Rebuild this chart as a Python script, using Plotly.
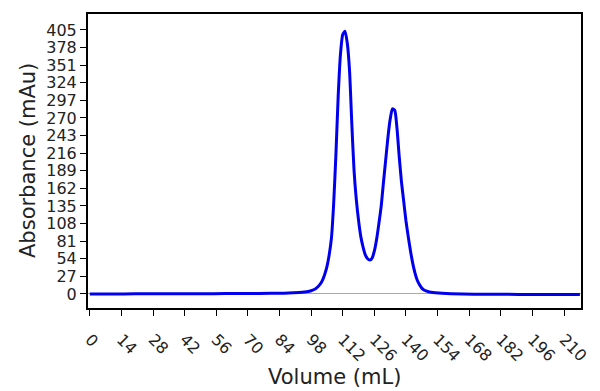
import plotly.graph_objects as go

volume_ml = [0, 10, 20, 30, 40, 50, 60, 70, 80, 86, 90, 94, 96, 98, 100, 101, 102, 103, 104, 105,
             106, 107, 108, 109, 110, 111, 112, 113, 114, 115, 116, 117, 118, 119, 120,
             121, 122, 123, 124, 125, 126, 127, 128, 129, 130, 131, 132, 133, 134, 135,
             136, 137, 138, 139, 140, 141, 142, 143, 144, 145, 146, 147, 148, 150, 153,
             156, 160, 170, 180, 190, 200, 210, 217]
absorbance_mau = [0.0, 0.0, 0.2, 0.3, 0.4, 0.5, 0.6, 0.8, 1.0, 1.3, 1.8, 2.6, 3.5, 5, 8, 11, 15, 21, 30, 42,
                  60, 86, 140, 216, 305, 368, 398, 403, 385, 343, 262, 190, 145, 113, 88,
                  72, 60, 54, 52, 55, 66, 84, 108, 134, 170, 205, 240, 268, 284, 282,
                  255, 211, 172, 142, 112, 88, 66, 47, 32, 21, 14, 9, 6, 3.5, 2,
                  1, 0.3, -0.3, -0.5, -0.6, -0.7, -0.8, -0.8]

x_ticks = list(range(0, 211, 14))
y_ticks = list(range(0, 406, 27))
x_title = "Volume (mL)"
y_title = "Absorbance (mAu)"

fig = go.Figure()
fig.add_trace(go.Scatter(
    x=volume_ml, y=absorbance_mau, mode="lines",
    line=dict(color="#0000ee", width=3, shape="spline", smoothing=0.6),
    showlegend=False,
))

axis_common = dict(
    showline=True, linecolor="black", linewidth=2, mirror=True,
    ticks="outside", ticklen=6, tickcolor="black", tickwidth=1,
    showgrid=False, automargin=False,
    tickfont=dict(family="DejaVu Sans", size=16, color="#222"),
)

title_font = dict(family="DejaVu Sans", size=21, color="#222")

fig.update_layout(
    width=600, height=391,
    margin=dict(l=88, r=19, t=14, b=83),
    paper_bgcolor="white", plot_bgcolor="white",
    font=dict(family="DejaVu Sans", color="#222"),
    xaxis=dict(
        range=[-0.8, 217.5], tickvals=x_ticks, tickangle=45,
        zeroline=False, ticklabelstandoff=8,
        **axis_common,
    ),
    yaxis=dict(
        range=[-21.5, 429.5], tickvals=y_ticks,
        zeroline=True, zerolinecolor="#aaaaaa", zerolinewidth=1,
        **axis_common,
    ),
    annotations=[
        dict(text=x_title, xref="paper", yref="paper", x=0.5, y=0,
             xanchor="center", yanchor="middle", yshift=-69, showarrow=False,
             font=title_font),
        dict(text=y_title, xref="paper", yref="paper", x=0, y=0.5,
             xanchor="center", yanchor="middle", xshift=-60, textangle=-90,
             showarrow=False, font=title_font),
    ],
)

fig.write_html(
    "out.html",
    config={"displayModeBar": False},
    post_script="document.body.style.margin='0';document.body.style.overflow='hidden';",
)
